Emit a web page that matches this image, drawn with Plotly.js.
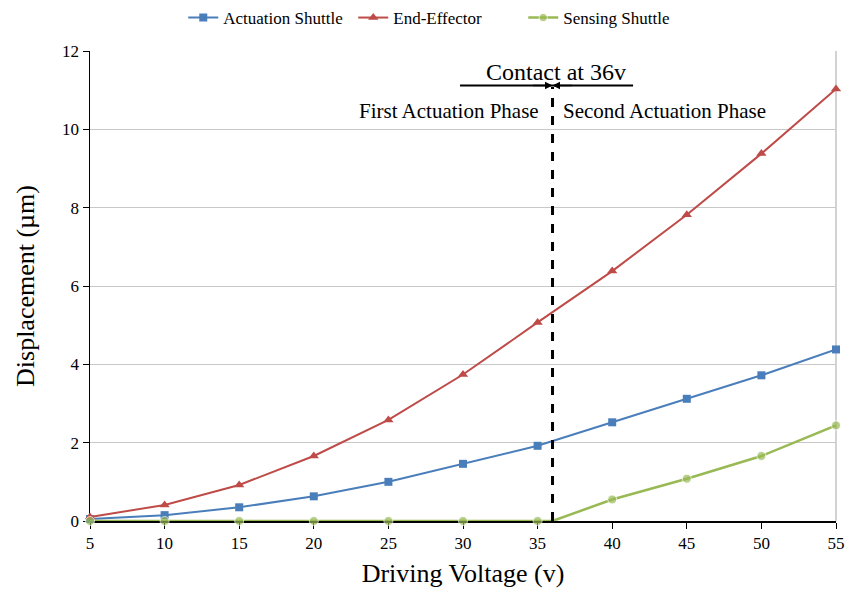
<!DOCTYPE html>
<html>
<head>
<meta charset="utf-8">
<script src="https://cdn.plot.ly/plotly-3.0.1.min.js"></script>
<style>html,body{margin:0;padding:0;background:#fff;}#chart{width:857px;height:600px;}</style>
</head>
<body>
<div id="chart"></div>
<script>
const voltage = [5, 10, 15, 20, 25, 30, 35, 40, 45, 50, 55];
const actuationShuttle = [0.05, 0.15, 0.35, 0.63, 1.0, 1.46, 1.92, 2.52, 3.12, 3.72, 4.38];
const endEffector = [0.1, 0.41, 0.92, 1.66, 2.58, 3.74, 5.07, 6.38, 7.82, 9.38, 11.03];
const sensingVoltage = [5, 10, 15, 20, 25, 30, 35, 36, 40, 45, 50, 55];
const sensingShuttle = [0, 0, 0, 0, 0, 0, 0, 0, 0.55, 1.08, 1.66, 2.44];
const sensingMarkerSize = [9, 9, 9, 9, 9, 9, 9, 0, 9, 9, 9, 9];
const xTicks = [5, 10, 15, 20, 25, 30, 35, 40, 45, 50, 55];
const yTicks = [0, 2, 4, 6, 8, 10, 12];
const contactVoltage = 36;

const serif = "Liberation Serif, Times New Roman, serif";

const traces = [
  {x: voltage, y: actuationShuttle, name: "Actuation Shuttle", mode: "lines+markers", cliponaxis: false,
   line: {color: "#4a7ebb", width: 2}, marker: {symbol: "square", size: 8, color: "#4a7ebb"}},
  {x: voltage, y: endEffector, name: "End-Effector", mode: "lines+markers", cliponaxis: false,
   line: {color: "#be4b48", width: 2}, marker: {symbol: "triangle-up", size: 9, color: "#be4b48"}},
  {x: sensingVoltage, y: sensingShuttle, name: "Sensing Shuttle", mode: "lines+markers", cliponaxis: false,
   line: {color: "#98b954", width: 2.5}, marker: {symbol: "circle", size: sensingMarkerSize, color: "#98b954"}}
];

const layout = {
  width: 857, height: 600,
  margin: {l: 90, r: 21, t: 51, b: 79, autoexpand: false},
  paper_bgcolor: "#fff", plot_bgcolor: "#fff",
  font: {family: serif, color: "#000", size: 16},
  showlegend: true,
  legend: {orientation: "h", x: 0.125, xanchor: "left", y: 0.97, yref: "container", yanchor: "middle",
    font: {family: serif, size: 17}, itemwidth: 30, entrywidth: 125, entrywidthmode: "pixels"},
  xaxis: {
    range: [5, 55], tickvals: xTicks, ticktext: xTicks.map(String),
    showgrid: false, zeroline: false, showline: true, linecolor: "#000", linewidth: 1.5,
    ticks: "outside", ticklen: 6, tickcolor: "#000", tickfont: {family: serif, size: 17},
    mirror: false, layer: "below traces",
    title: {text: "Driving Voltage (v)", font: {family: serif, size: 26}, standoff: 12}
  },
  yaxis: {
    range: [0, 12], tickvals: yTicks, ticktext: yTicks.map(String),
    showgrid: true, gridcolor: "#c8c8c8", gridwidth: 1, zeroline: false,
    showline: true, linecolor: "#000", linewidth: 1.5, layer: "below traces",
    ticks: "outside", ticklen: 6, tickcolor: "#000", tickfont: {family: serif, size: 17},
    title: {text: "Displacement (µm)", font: {family: serif, size: 26}, standoff: 20}
  },
  shapes: [
    {type: "line", xref: "paper", yref: "paper", x0: 1, x1: 1, y0: 0, y1: 1, layer: "below",
     line: {color: "#a6a6a6", width: 1}},
    {type: "line", xref: "x", yref: "y", x0: contactVoltage, x1: contactVoltage, y0: 0, y1: 11.08,
     line: {color: "#000", width: 3, dash: "dash"}},
    {type: "line", xref: "x", yref: "y", x0: 29.8, x1: 41.4, y0: 11.12, y1: 11.12,
     line: {color: "#000", width: 2}}
  ],
  annotations: [
    {x: contactVoltage, y: 11.12, xref: "x", yref: "y", ax: 34.6, ay: 11.12, axref: "x", ayref: "y",
     showarrow: true, arrowhead: 2, arrowsize: 1, arrowwidth: 1.5, arrowcolor: "#000", text: ""},
    {x: contactVoltage, y: 11.12, xref: "x", yref: "y", ax: 37.4, ay: 11.12, axref: "x", ayref: "y",
     showarrow: true, arrowhead: 2, arrowsize: 1, arrowwidth: 1.5, arrowcolor: "#000", text: ""},
    {x: 36.2, y: 11.12, xref: "x", yref: "y", yanchor: "bottom", xanchor: "center", yshift: -2,
     showarrow: false, text: "Contact at 36v", font: {family: serif, size: 24, color: "#000"}},
    {x: 35.25, y: 10.47, xref: "x", yref: "y", xanchor: "right", yanchor: "middle",
     showarrow: false, text: "First Actuation Phase", font: {family: serif, size: 21, color: "#000"}},
    {x: 36.55, y: 10.47, xref: "x", yref: "y", xanchor: "left", yanchor: "middle",
     showarrow: false, text: "Second Actuation Phase", font: {family: serif, size: 21, color: "#000"}}
  ]
};

Plotly.newPlot("chart", traces, layout, {displayModeBar: false, staticPlot: true});
</script>
</body>
</html>
